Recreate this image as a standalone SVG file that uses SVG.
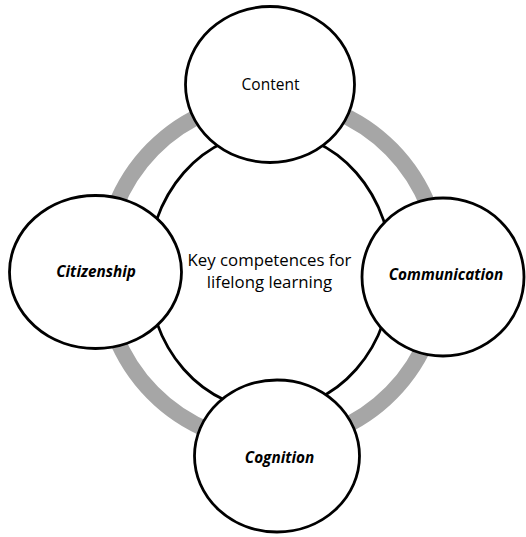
<svg xmlns="http://www.w3.org/2000/svg" width="526" height="537" viewBox="0 0 526 537">
  <style>
    .node { fill: #ffffff; stroke: #000000; stroke-width: 2.8; }
    .ring { fill: none; stroke: #a6a6a6; stroke-width: 16; }
    .inner { fill: none; stroke: #000000; stroke-width: 2.8; }
    .lbl { font-family: "Open Sans", "Liberation Sans", sans-serif; font-size: 16.8px; fill: #000000; text-anchor: middle; }
    .lblc { font-family: "Open Sans", "Liberation Sans", sans-serif; font-size: 15.5px; fill: #000000; text-anchor: middle; }
    .lblb { font-family: "Open Sans", "Liberation Sans", sans-serif; font-size: 15.3px; font-weight: bold; font-style: italic; fill: #000000; text-anchor: middle; }
  </style>
  <rect width="526" height="537" fill="#ffffff"/>
  <g id="connectors">
    <ellipse class="ring" cx="272" cy="271" rx="169" ry="172"/>
  </g>
  <g id="center">
    <ellipse class="inner" cx="270" cy="271" rx="122" ry="139"/>
    <text class="lbl" x="269.5" y="266">Key competences for</text>
    <text class="lbl" x="269.5" y="288">lifelong learning</text>
  </g>
  <g id="content">
    <ellipse class="node" cx="270" cy="84.5" rx="84.5" ry="78"/>
    <text class="lblc" x="270.5" y="90">Content</text>
  </g>
  <g id="citizenship">
    <ellipse class="node" cx="95.5" cy="272" rx="86" ry="76.5"/>
    <text class="lblb" x="96" y="277">Citizenship</text>
  </g>
  <g id="communication">
    <ellipse class="node" cx="443" cy="277" rx="81" ry="79"/>
    <text class="lblb" x="446" y="280">Communication</text>
  </g>
  <g id="cognition">
    <ellipse class="node" cx="277" cy="456" rx="82.5" ry="76"/>
    <text class="lblb" x="279.5" y="463">Cognition</text>
  </g>
</svg>
